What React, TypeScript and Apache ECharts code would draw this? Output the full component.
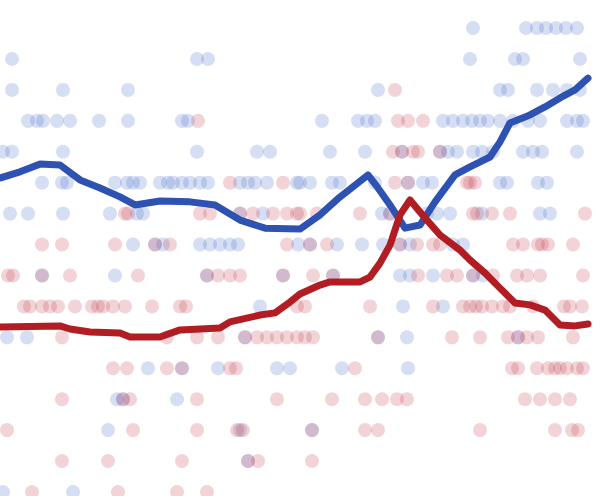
import React, { useEffect, useRef } from "react";
import * as echarts from "echarts";

// Each row: [margin value, list of day positions]
const blueRows: [number, number[]][] = [
  [10, [537, 575]],
  [9, [473, 526, 537, 546, 556, 566, 577]],
  [8, [12, 197, 208, 470, 515, 523, 580]],
  [7, [12, 63, 128, 378, 500, 508, 537, 553, 567, 580]],
  [6, [28, 37, 43, 57, 70, 99, 128, 182, 188, 322, 358, 367, 375, 443, 453, 463, 472, 480, 488, 500, 513, 528, 540, 567, 577, 583]],
  [5, [3, 12, 63, 197, 257, 270, 330, 365, 402, 440, 448, 457, 473, 482, 493, 523, 533, 542, 577]],
  [4, [42, 62, 67, 115, 127, 133, 140, 160, 168, 173, 182, 190, 200, 208, 240, 248, 255, 267, 297, 300, 310, 332, 340, 375, 408, 423, 432, 500, 507, 538, 547]],
  [3, [10, 28, 63, 110, 137, 143, 240, 263, 382, 390, 427, 437, 450, 482, 540, 550]],
  [2, [133, 155, 163, 200, 210, 220, 230, 238, 298, 310, 337, 362, 383, 400, 410, 453, 463]],
  [1, [42, 115, 207, 283, 333, 400, 410, 433, 473, 483]],
  [0, [260, 403, 443]],
  [-1, [7, 27, 245, 378, 407, 518]],
  [-2, [148, 182, 218, 277, 290, 342, 408]],
  [-3, [117, 123, 177]],
  [-4, [108, 240, 312]],
  [-5, [248]],
  [-6, [3, 73]],
];

const redRows: [number, number[]][] = [
  [7, [395]],
  [6, [198, 398, 408, 423]],
  [5, [393, 402, 413, 418, 440]],
  [4, [230, 283, 395, 408, 467, 470, 475]],
  [3, [125, 128, 200, 210, 240, 253, 273, 287, 297, 300, 317, 360, 390, 473, 477, 492, 510, 585]],
  [2, [42, 62, 115, 155, 170, 287, 310, 327, 400, 417, 433, 440, 513, 523, 538, 542, 548, 573]],
  [1, [8, 13, 42, 70, 138, 207, 218, 230, 240, 283, 313, 333, 418, 447, 457, 473, 493, 517, 527, 540, 583]],
  [0, [24, 30, 42, 50, 58, 75, 92, 98, 103, 113, 125, 152, 180, 186, 297, 305, 370, 433, 463, 470, 476, 482, 492, 503, 510, 533, 564, 570, 582]],
  [-1, [62, 167, 197, 218, 245, 257, 267, 277, 287, 297, 305, 313, 378, 452, 480, 508, 518, 527, 538, 573]],
  [-2, [113, 127, 167, 182, 230, 236, 355, 512, 518, 537, 548, 555, 560, 567, 577, 583]],
  [-3, [62, 123, 130, 197, 277, 332, 365, 382, 397, 407, 525, 540, 555, 570]],
  [-4, [7, 133, 197, 237, 243, 312, 365, 378, 480, 555, 572, 578]],
  [-5, [62, 108, 182, 248, 258, 312]],
  [-6, [32, 118, 177, 207]],
];

const blueAvg: [number, number][] = [
  [0, 4.15], [20, 4.35], [40, 4.6], [60, 4.57], [80, 4.09], [100, 3.83], [120, 3.54],
  [135, 3.28], [160, 3.41], [190, 3.38], [215, 3.28], [240, 2.79], [265, 2.53], [300, 2.5],
  [320, 2.96], [340, 3.54], [368, 4.25], [378, 3.83], [390, 3.28], [405, 2.53], [420, 2.63],
  [435, 3.38], [455, 4.25], [470, 4.51], [490, 4.83], [500, 5.32], [510, 5.93], [530, 6.19],
  [545, 6.45], [560, 6.74], [575, 7.0], [588, 7.38],
];

const redAvg: [number, number][] = [
  [0, -0.67], [60, -0.63], [70, -0.73], [90, -0.83], [120, -0.86], [130, -0.99], [160, -0.99],
  [180, -0.76], [220, -0.7], [230, -0.5], [260, -0.28], [275, -0.21], [290, 0.14], [300, 0.4],
  [320, 0.69], [330, 0.79], [360, 0.79], [370, 0.95], [380, 1.4], [390, 1.98], [400, 2.96],
  [410, 3.44], [425, 2.86], [440, 2.31], [460, 1.82], [470, 1.5], [485, 1.08], [500, 0.59],
  [515, 0.11], [530, 0.05], [545, -0.12], [560, -0.6], [575, -0.63], [588, -0.57],
];

const flatten = (rows: [number, number[]][]) =>
  rows.flatMap(([v, xs]) => xs.map((x) => [x, v] as [number, number]));

export default function App() {
  const ref = useRef<HTMLDivElement>(null);
  useEffect(() => {
    if (!ref.current) return;
    const chart = echarts.init(ref.current, null, { renderer: "svg" });
    chart.setOption({
      animation: false,
      backgroundColor: "#ffffff",
      grid: { left: 0, right: 0, top: 0, bottom: 0 },
      xAxis: { type: "value", min: 0, max: 600, show: false },
      yAxis: { type: "value", min: -6.13, max: 9.906, show: false },
      series: [
        {
          type: "scatter",
          data: flatten(blueRows),
          symbolSize: 14,
          itemStyle: { color: "#3d62c8", opacity: 0.21 },
          silent: true,
        },
        {
          type: "scatter",
          data: flatten(redRows),
          symbolSize: 14,
          itemStyle: { color: "#c0283c", opacity: 0.2 },
          silent: true,
        },
        {
          type: "line",
          data: blueAvg,
          showSymbol: false,
          smooth: false,
          lineStyle: { color: "#2d52b2", width: 7, cap: "round", join: "round" },
          silent: true,
        },
        {
          type: "line",
          data: redAvg,
          showSymbol: false,
          smooth: false,
          lineStyle: { color: "#b11d23", width: 7, cap: "round", join: "round" },
          silent: true,
        },
      ],
    });
    return () => chart.dispose();
  }, []);
  return (
    <div
      ref={ref}
      style={{ position: "fixed", left: 0, top: 0, width: 600, height: 496 }}
    />
  );
}
